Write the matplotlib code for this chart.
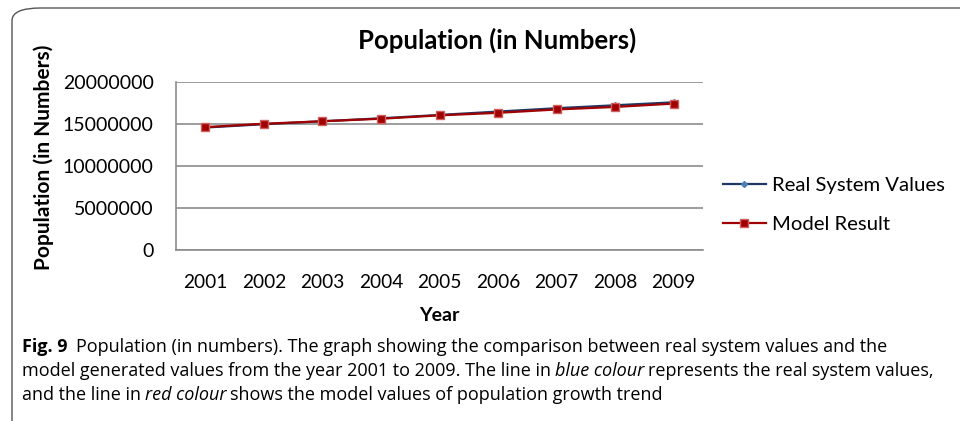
import numpy as np
import matplotlib.pyplot as plt
from matplotlib.patches import FancyBboxPatch

# data
years = ['2001', '2002', '2003', '2004', '2005', '2006', '2007', '2008', '2009']
real_values = [14550000, 14950000, 15300000, 15650000, 16050000, 16450000, 16850000, 17200000, 17550000]
model_values = [14600000, 15000000, 15300000, 15600000, 16000000, 16300000, 16700000, 17000000, 17400000]
y_ticks = [0, 5000000, 10000000, 15000000, 20000000]

chart_font = ['Lato', 'DejaVu Sans']
caption_font = ['Open Sans', 'DejaVu Sans']
cap_size = 13.0

fig = plt.figure(figsize=(9.6, 4.21), dpi=100)

# rounded frame around the figure panel
frame = FancyBboxPatch((12 / 960, -0.2), 1.2, 1.2 - 8 / 421,
                       boxstyle='round,pad=0,rounding_size=0.03',
                       transform=fig.transFigure, fill=False,
                       edgecolor='#555555', linewidth=1.0)
fig.patches.append(frame)

ax = fig.add_axes([176 / 960, 1 - 250 / 421, (703 - 176) / 960, (250 - 81.7) / 421])
x = np.arange(len(years))

ax.plot(x, real_values, color='#1f3864', linewidth=1.6, marker='D', markersize=3,
        markerfacecolor='#4a7ebb', markeredgecolor='#4a7ebb', label='Real System Values', zorder=3)
ax.plot(x, model_values, color='#a00000', linewidth=1.6, marker='s', markersize=6,
        markerfacecolor='#a00000', markeredgecolor='#d06060', markeredgewidth=1.0,
        label='Model Result', zorder=4)

ax.set_xlim(-0.5, len(years) - 0.5)
ax.set_ylim(0, 20000000)
ax.set_yticks(y_ticks)
ax.set_yticklabels([str(v) for v in y_ticks], fontsize=14, family=chart_font)
ax.set_xticks(x)
ax.set_xticklabels(years, fontsize=13.8, family=chart_font)
ax.tick_params(axis='x', length=0, pad=17)
ax.tick_params(axis='y', length=0, pad=16)
ax.yaxis.grid(True, color='#8c8c8c', linewidth=1.2)
ax.set_axisbelow(True)
for side in ['top', 'right']:
    ax.spines[side].set_visible(False)
for side in ['left', 'bottom']:
    ax.spines[side].set_color('#8c8c8c')
    ax.spines[side].set_linewidth(1.2)

ax.set_title('Population (in Numbers)', fontsize=18.5, fontweight='bold', family=chart_font, pad=24,
             x=(497 - 176) / (703 - 176))
ax.set_xlabel('Year', fontsize=14, fontweight='bold', family=chart_font, labelpad=12)
fig.text(44 / 960, 1 - 157 / 421, 'Population (in Numbers)', rotation=90, ha='center', va='center',
         fontsize=15, fontweight='bold', family=chart_font)

leg = fig.legend(loc='center left', bbox_to_anchor=(723 / 960, 1 - 205 / 421), frameon=False,
                 prop={'family': chart_font, 'size': 14.6}, handlelength=2.1, handletextpad=0.3,
                 labelspacing=1.05, borderpad=0, borderaxespad=0)

# caption below the chart, built piece by piece so the italic words fit in
fig.canvas.draw()
r = fig.canvas.get_renderer()


def caption_line(y, parts, x0=22):
    xpos = x0
    for text, style, weight, gap in parts:
        t = fig.text(xpos / 960, 1 - y / 421, text, fontsize=cap_size, family=caption_font,
                     style=style, fontweight=weight, va='center')
        bb = t.get_window_extent(r)
        xpos = bb.x1 + gap


caption_line(347, [
    ('Fig. 9', 'normal', 'bold', 8),
    ('Population (in numbers). The graph showing the comparison between real system values and the',
     'normal', 'normal', 0),
])
caption_line(371, [
    ('model generated values from the year 2001 to 2009. The line in', 'normal', 'normal', 4),
    ('blue colour', 'italic', 'normal', 4),
    ('represents the real system values,', 'normal', 'normal', 0),
])
caption_line(395, [
    ('and the line in', 'normal', 'normal', 4),
    ('red colour', 'italic', 'normal', 4),
    ('shows the model values of population growth trend', 'normal', 'normal', 0),
])

fig.savefig('out.png', dpi=100)
